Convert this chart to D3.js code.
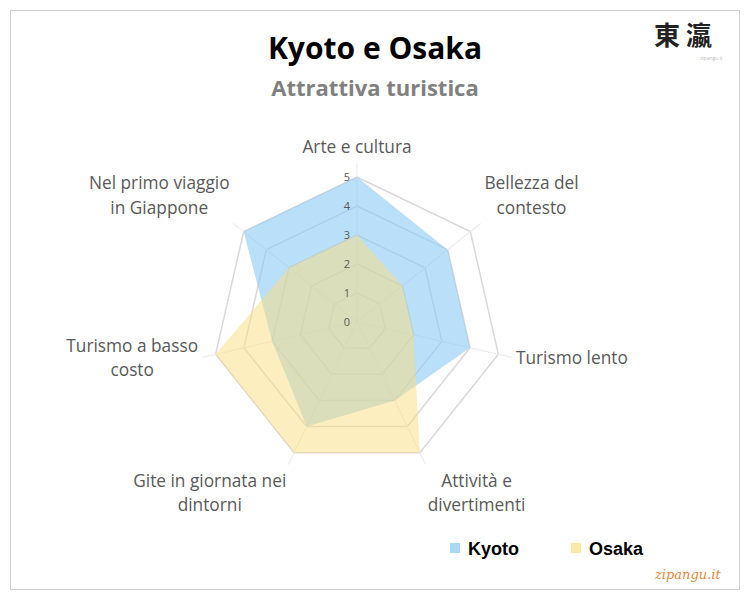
<!DOCTYPE html><html><head><meta charset="utf-8"><script src="https://cdn.jsdelivr.net/npm/d3@7"></script>
<style>body{margin:0;background:#fff}</style></head><body><svg id="c" width="750" height="600"></svg><script>
const axes=[["Arte e cultura"],["Bellezza del","contesto"],["Turismo lento"],["Attività e","divertimenti"],["Gite in giornata nei","dintorni"],["Turismo a basso","costo"],["Nel primo viaggio","in Giappone"]];
const kyoto=[5,4,4,3,4,3,5];
const osaka=[3,2,2,5,5,5,3];
const ticks=[0,1,2,3,4,5];
const series=[{name:"Kyoto",values:kyoto,color:"rgba(140,202,245,0.6)",leg:"#a9d8f8"},{name:"Osaka",values:osaka,color:"rgba(250,222,125,0.5)",leg:"#fbe7a6"}];
const svg=d3.select("#c");
svg.append("rect").attr("x",10.5).attr("y",10.5).attr("width",729).attr("height",579).attr("fill","#fff").attr("stroke","#d0d0d0");
const cx=357,cy=322,R=145,FS=17.3;
const r=d3.scaleLinear().domain([0,5]).range([0,R]);
const n=axes.length,ang=i=>i*2*Math.PI/n;
const pt=(i,v)=>[cx+r(v)*Math.sin(ang(i)),cy-r(v)*Math.cos(ang(i))];
const g=svg.append("g");
ticks.slice(1).forEach(t=>{g.append("polygon").attr("points",d3.range(n).map(i=>pt(i,t).join(",")).join(" ")).attr("fill","none").attr("stroke","#d9d9d9").attr("stroke-width",1.5);});
d3.range(n).forEach(i=>{const p=pt(i,5.45);g.append("line").attr("x1",cx).attr("y1",cy).attr("x2",p[0]).attr("y2",p[1]).attr("stroke","#ececec").attr("stroke-width",1.2);});
series.forEach(s=>{g.append("polygon").attr("points",s.values.map((v,i)=>pt(i,v).join(",")).join(" ")).attr("fill",s.color);});
ticks.forEach(t=>g.append("text").attr("x",cx-10).attr("y",cy-r(t)+4).attr("text-anchor","middle").attr("font-family","Open Sans").attr("font-size",11).attr("fill","#595959").text(t));
axes.forEach((lines,i)=>{const tmp=svg.append("text").attr("font-family","Open Sans").attr("font-size",FS);
  const w=d3.max(lines,l=>{tmp.text(l);return tmp.node().getComputedTextLength();});tmp.remove();
  const h=lines.length*24.5;const a=ang(i),s=Math.sin(a),c=Math.cos(a);const rr=R+18;
  const x=cx+rr*s+(Math.abs(s)>0.1?Math.sign(s)*w/2:0);
  const y=cy-rr*c-(Math.abs(c)>0.5?Math.sign(c)*h/2:0);
  const t=svg.append("text").attr("text-anchor","middle").attr("font-family","Open Sans").attr("font-size",FS).attr("fill","#595959");
  lines.forEach((l,k)=>t.append("tspan").attr("x",x).attr("y",y-h/2+18+k*24.5).text(l));});
svg.append("text").attr("x",375).attr("y",59).attr("text-anchor","middle").attr("font-family","Open Sans").attr("font-weight","bold").attr("font-size",30).attr("fill","#000").text("Kyoto e Osaka");
svg.append("text").attr("x",375).attr("y",96).attr("text-anchor","middle").attr("font-family","Open Sans").attr("font-weight","bold").attr("font-size",22).attr("fill","#808080").text("Attrattiva turistica");
series.forEach((s,k)=>{const x=450+k*121;svg.append("rect").attr("x",x).attr("y",543).attr("width",10).attr("height",10).attr("fill",s.leg);
  svg.append("text").attr("x",x+18).attr("y",555).attr("font-family","Liberation Sans").attr("font-weight","bold").attr("font-size",18).attr("fill","#000").text(s.name);});
svg.append("text").attr("x",655).attr("y",579).attr("font-family","DejaVu Serif").attr("font-style","italic").attr("font-size",13).attr("fill","#e2873a").text("zipangu.it");
svg.append("text").attr("x",683).attr("y",45).attr("text-anchor","middle").attr("font-family","Noto Sans CJK JP").attr("font-weight","bold").attr("font-size",26).attr("fill","#222").text("東 瀛");
svg.append("text").attr("x",700).attr("y",60).attr("font-family","Open Sans").attr("font-size",5).attr("fill","#bbb").text("zipangu.it");
</script></body></html>
